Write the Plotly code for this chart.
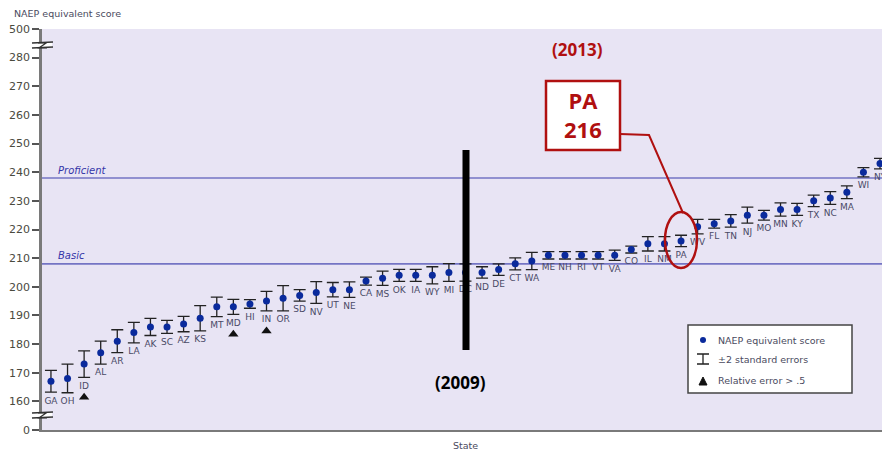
import plotly.graph_objects as go

# NAEP equivalent scores of state proficiency standards, ordered from lowest to highest
states = ["GA", "OH", "ID", "AL", "AR", "LA", "AK", "SC", "AZ", "KS",
          "MT", "MD", "HI", "IN", "OR", "SD", "NV", "UT", "NE", "CA",
          "MS", "OK", "IA", "WY", "MI", "DC", "ND", "DE", "CT", "WA",
          "ME", "NH", "RI", "VT", "VA", "CO", "IL", "NM", "PA", "WV",
          "FL", "TN", "NJ", "MO", "MN", "KY", "TX", "NC", "MA", "WI", "NY"]
scores = [167, 168, 173, 177, 181, 184, 186, 186, 187, 189,
          193, 193, 194, 195, 196, 197, 198, 199, 199, 202,
          203, 204, 204, 204, 205, 205, 205, 206, 208, 209,
          211, 211, 211, 211, 211, 213, 215, 215, 216, 221,
          222, 223, 225, 225, 227, 227, 230, 231, 233, 240, 243]
# two standard errors
errors = [3.8, 5.0, 4.6, 4.0, 4.0, 3.6, 3.0, 2.3, 2.7, 4.4,
          3.4, 2.6, 1.5, 3.4, 4.4, 2.0, 3.8, 2.5, 2.7, 1.4,
          2.5, 2.1, 2.1, 3.0, 3.1, 3.0, 2.0, 2.0, 2.1, 3.0,
          1.3, 1.3, 1.3, 1.3, 1.8, 1.2, 2.5, 2.5, 2.0, 2.5,
          1.5, 2.2, 2.8, 1.7, 2.3, 2.1, 2.0, 2.2, 2.2, 1.6, 1.8]
flagged = ["ID", "MD", "IN"]  # relative error > .5

basic_cut = 208
proficient_cut = 238

# broken y axis: 150 stands for 0 and 290 for 500
tick_vals = [150, 160, 170, 180, 190, 200, 210, 220, 230, 240, 250, 260, 270, 280, 290]
tick_text = ["0", "160", "170", "180", "190", "200", "210", "220", "230", "240",
             "250", "260", "270", "280", "500"]

highlight_state = "PA"
highlight_score = scores[states.index(highlight_state)]

W, H = 882, 455
ML, MR, MT, MB = 42, 0, 29, 25
PW, PH = W - ML - MR, H - MT - MB


def px(x):
    return (x - ML) / PW


def py(y):
    return (H - MB - y) / PH


x_idx = list(range(len(states)))
lows = [s - e for s, e in zip(scores, errors)]

fig = go.Figure()

fig.add_trace(go.Scatter(
    x=x_idx, y=scores, mode="markers",
    marker=dict(color="#0a2a9c", size=7),
    error_y=dict(type="data", array=errors, color="#222222", thickness=1.3, width=6),
    cliponaxis=False, hoverinfo="skip", showlegend=False))

# state labels sit just under the lower error cap
fig.add_trace(go.Scatter(
    x=x_idx, y=[v - 1.6 for v in lows], mode="text", text=states,
    textposition="bottom center",
    textfont=dict(family="DejaVu Sans", size=9, color="#4a4a66"),
    hoverinfo="skip", showlegend=False))

fx = [states.index(s) for s in flagged]
fy = [lows[i] - 7 for i in fx]
fig.add_trace(go.Scatter(
    x=fx, y=fy, mode="markers",
    marker=dict(symbol="triangle-up", color="#111111", size=9),
    hoverinfo="skip", showlegend=False))

shapes = []
# achievement level cut lines
for v in (basic_cut, proficient_cut):
    shapes.append(dict(type="line", xref="paper", yref="y", x0=0, x1=1, y0=v, y1=v,
                       line=dict(color="#7474c4", width=1.6), layer="below"))

# axis break marks
for yb in (45, 415):
    shapes.append(dict(type="rect", xref="paper", yref="paper",
                       x0=px(33), x1=px(52), y0=py(yb + 3), y1=py(yb - 3),
                       fillcolor="white", line=dict(width=0)))
    shapes.append(dict(type="path", xref="paper", yref="paper",
                       path=f"M {px(32)},{py(yb - 2)} L {px(53)},{py(yb - 3)}",
                       line=dict(color="#333333", width=1.6)))
    shapes.append(dict(type="path", xref="paper", yref="paper",
                       path=f"M {px(32)},{py(yb + 3)} L {px(53)},{py(yb + 2)}",
                       line=dict(color="#333333", width=1.6)))
    shapes.append(dict(type="path", xref="paper", yref="paper",
                       path=f"M {px(38)},{py(yb - 2)} L {px(46)},{py(yb - 2)} L {px(39)},{py(yb + 3)} L {px(47)},{py(yb + 3)}",
                       line=dict(color="#333333", width=1.2)))

# black divider bar
shapes.append(dict(type="rect", xref="paper", yref="paper",
                   x0=px(462.5), x1=px(469.5), y0=py(350), y1=py(150),
                   fillcolor="black", line=dict(width=0)))

# callout box, connector and ellipse
shapes.append(dict(type="rect", xref="paper", yref="paper",
                   x0=px(546), x1=px(620), y0=py(150), y1=py(81),
                   fillcolor="white", line=dict(color="#b01010", width=2.5)))
shapes.append(dict(type="path", xref="paper", yref="paper",
                   path=f"M {px(620)},{py(134)} L {px(649)},{py(135)} L {px(683)},{py(213)}",
                   line=dict(color="#b01010", width=2)))
shapes.append(dict(type="circle", xref="paper", yref="paper",
                   x0=px(665), x1=px(697), y0=py(268), y1=py(212),
                   line=dict(color="#b01010", width=2.5)))

# legend box
shapes.append(dict(type="rect", xref="paper", yref="paper",
                   x0=px(688), x1=px(852), y0=py(393), y1=py(325),
                   fillcolor="white", line=dict(color="#444444", width=1.5)))
shapes.append(dict(type="circle", xref="paper", yref="paper",
                   x0=px(700), x1=px(706), y0=py(343), y1=py(337),
                   fillcolor="#0a2a9c", line=dict(width=0)))
shapes.append(dict(type="path", xref="paper", yref="paper",
                   path=(f"M {px(697)},{py(354)} L {px(709)},{py(354)} "
                         f"M {px(703)},{py(354)} L {px(703)},{py(364)} "
                         f"M {px(697)},{py(364)} L {px(709)},{py(364)}"),
                   line=dict(color="#222222", width=1.3)))
shapes.append(dict(type="path", xref="paper", yref="paper",
                   path=f"M {px(699)},{py(385)} L {px(707)},{py(385)} L {px(703)},{py(377)} Z",
                   fillcolor="#111111", line=dict(color="#111111", width=1)))

legend_font = dict(family="DejaVu Sans", size=9.5, color="#4a4a5e")
red_bold = dict(family="Open Sans", size=22, color="#b01010", weight="bold")


def note(text, x, y, font, xanchor="center"):
    return dict(text=text, xref="paper", yref="paper", x=px(x), y=py(y),
                showarrow=False, xanchor=xanchor, yanchor="middle", font=font)


annotations = [
    note("<i>Proficient</i>", 56, 170,
         dict(family="DejaVu Sans", size=10, color="#3434a8"), "left"),
    note("<i>Basic</i>", 56, 256,
         dict(family="DejaVu Sans", size=10, color="#3434a8"), "left"),
    note("(2009)", 460, 382, dict(family="Open Sans", size=17, color="black", weight="bold")),
    note("(2013)", 577, 50, dict(family="Open Sans", size=17, color="#b01010", weight="bold")),
    note(f"{highlight_state}<br>{highlight_score}", 583, 115, red_bold),
    note("NAEP equivalent score", 716, 340, legend_font, "left"),
    note("±2 standard errors", 716, 359, legend_font, "left"),
    note("Relative error > .5", 716, 380, legend_font, "left"),
    note("NAEP equivalent score", 12, 13, legend_font, "left"),
    note("State", 465, 445, legend_font),
]

fig.update_layout(
    width=W, height=H,
    margin=dict(l=ML, r=MR, t=MT, b=MB),
    paper_bgcolor="white", plot_bgcolor="#e8e4f4",
    shapes=shapes, annotations=annotations,
    xaxis=dict(range=[-0.54, 50.12], showticklabels=False, ticks="", showgrid=False,
               zeroline=False, showline=True, linecolor="#7a7a7a", linewidth=2),
    yaxis=dict(range=[150, 290], tickvals=tick_vals, ticktext=tick_text,
               ticks="outside", ticklen=7, tickcolor="#555555", tickwidth=1.5,
               showgrid=False, zeroline=False, showline=True, linecolor="#7a7a7a",
               linewidth=2.5, tickfont=dict(family="DejaVu Sans", size=11, color="#4a4a3e")),
)

fig.write_html("out.html")
